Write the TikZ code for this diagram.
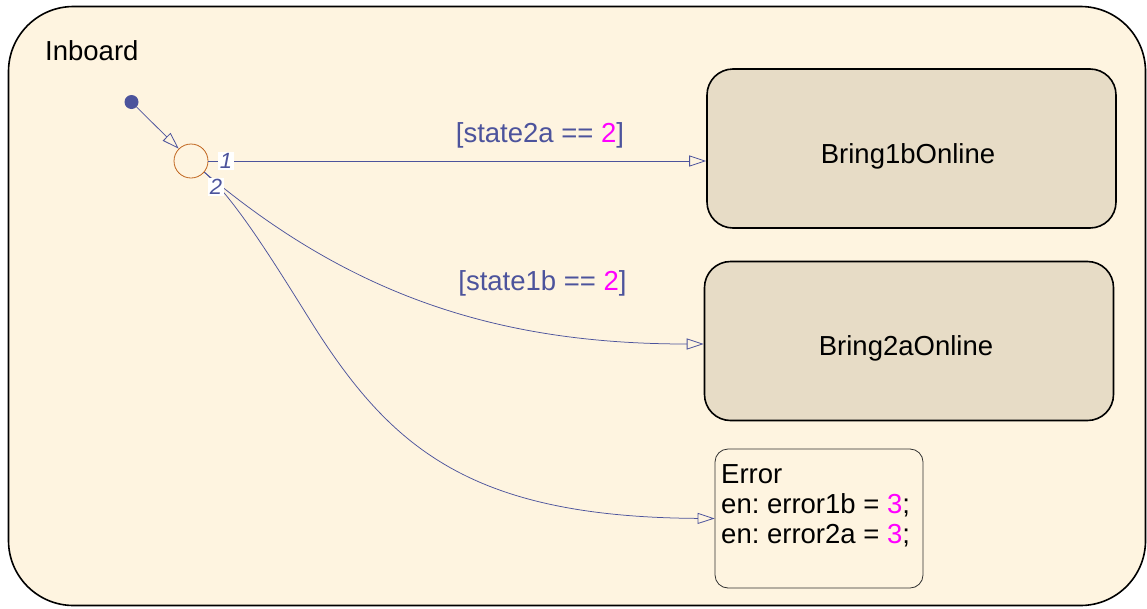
\documentclass[tikz,border=0pt]{standalone}
\usepackage{fontspec}
\setmainfont{Liberation Sans}
\usetikzlibrary{arrows.meta}
\definecolor{chartbg}{HTML}{FEF4E0}
\definecolor{statefill}{HTML}{E7DCC6}
\definecolor{trans}{HTML}{4C539C}
\definecolor{junc}{HTML}{C0651E}
\definecolor{num}{HTML}{FF00FF}
\definecolor{errline}{HTML}{303030}
\frenchspacing

\begin{document}
\begin{tikzpicture}[x=1pt,y=-1pt,
  txt/.style={font=\fontsize{27.5}{31}\selectfont, inner sep=0pt},
  state/.style={draw=black, line width=1.6pt, fill=statefill, rounded corners=26pt,
    minimum width=409pt, minimum height=159pt, inner sep=0pt},
  tr/.style={draw=trans, line width=0.75pt,
    -{Triangle[open, length=17pt, width=11pt, line width=0.8pt]}},
  guard/.style={txt, text=trans},
  tnum/.style={fill=white, text=trans, inner sep=1.5pt,
    font=\fontsize{22}{22}\selectfont\itshape}
]
\useasboundingbox (0,0) rectangle (1147,608);

% chart frame
\draw[line width=1.6pt, fill=chartbg, rounded corners=65pt] (8.5,6.5) rectangle (1145.5,605.5);
\node[txt, anchor=base west] (title) at (45,60) {Inboard};

% states
\node[state] (b1) at (911.5,148.5) {};
\node[txt, anchor=base] (b1name) at (908,163) {Bring1bOnline};
\node[state] (b2) at (909,341) {};
\node[txt, anchor=base] (b2name) at (906,355) {Bring2aOnline};

\node[draw=errline, line width=0.8pt, fill=chartbg, rounded corners=13pt,
  minimum width=208pt, minimum height=139pt, inner sep=0pt] (err) at (819,518.5) {};
\node[txt, anchor=base west] (err1) at (721,483) {Error};
\node[txt, anchor=base west] (err2) at (721,513) {en: error1b = \textcolor{num}{3};};
\node[txt, anchor=base west] (err3) at (721,543) {en: error2a = \textcolor{num}{3};};

% default transition and junction
\node[circle, fill=trans, minimum size=14pt, inner sep=0pt] (dot) at (131.5,102) {};
\node[circle, draw=junc, line width=0.8pt, minimum size=34pt, inner sep=0pt] (j) at (191,161) {};
\draw[tr] (dot) -- (j.135);

% transitions out of the junction
\draw[tr] (j.east) -- (j.east -| b1.west);
\draw[tr] (j.-40) .. controls (355,299.5) and (505,344) .. ([yshift=-3pt]b2.west);
\draw[tr] (j.-40) .. controls (235,199) and (275,264) .. (310,320)
  .. controls (390,448) and (470,517) .. (err.west);

% execution order labels
\node[tnum] (n1) at (226,161) {1};
\node[tnum] (n2) at (216,187) {2};

% guards
\node[guard, anchor=base] (g1) at (540,142) {[state2a == \textcolor{num}{2}]};
\node[guard, anchor=base] (g2) at (542.5,290) {[state1b == \textcolor{num}{2}]};
\end{tikzpicture}
\end{document}
